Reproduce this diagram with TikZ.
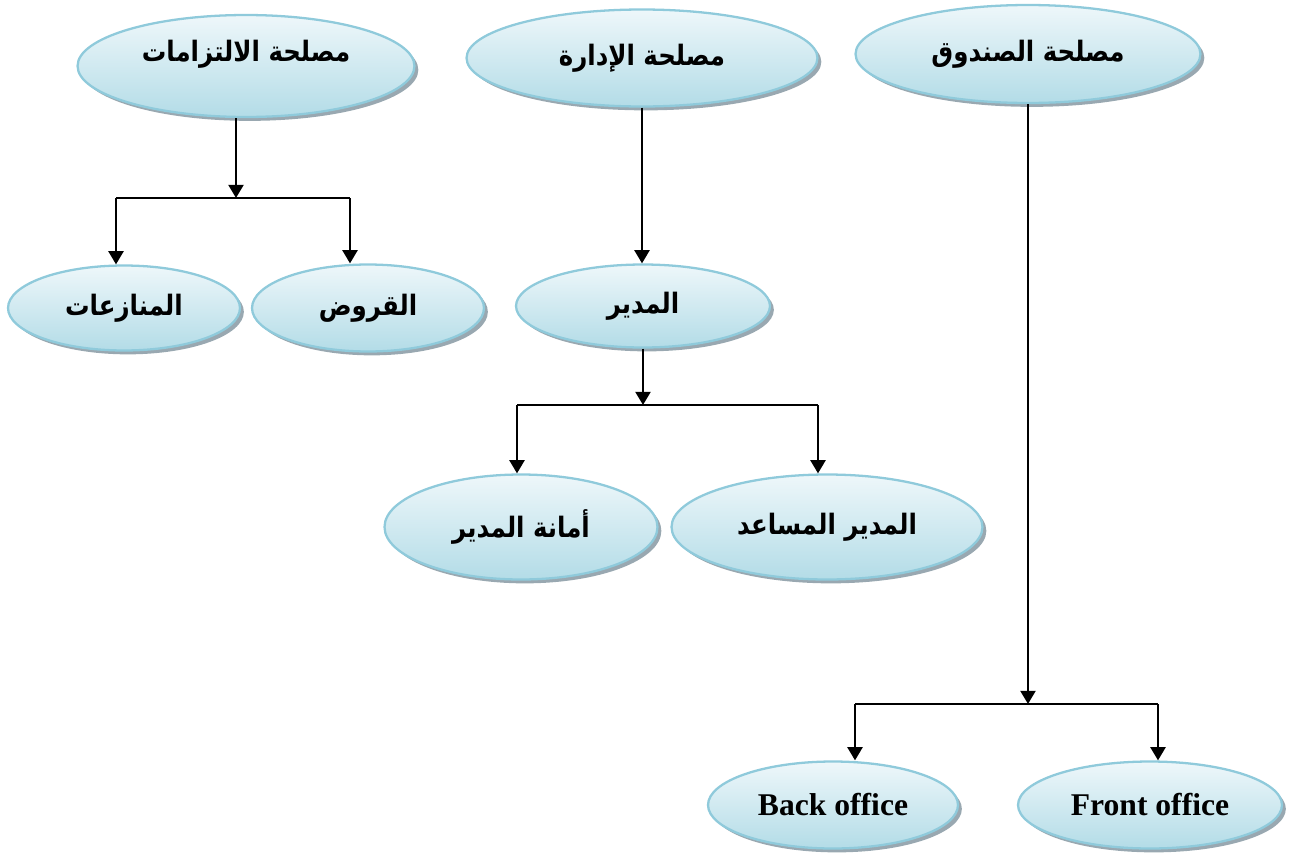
\documentclass[tikz,border=0pt]{standalone}
\usepackage{fontspec}
\setmainfont{Liberation Serif}
\newfontfamily\arabicfont[Script=Arabic]{DejaVu Sans}
\TeXXeTstate=1
\usetikzlibrary{shapes.geometric,shadows,arrows.meta}
\definecolor{unitline}{HTML}{8FCADB}
\definecolor{unittop}{HTML}{EEF7FA}
\definecolor{unitbot}{HTML}{B3DCE7}
\definecolor{unitshade}{HTML}{8E9FA8}
\newcommand{\ar}[1]{\scalebox{0.87}[1]{\fontsize{16}{18}\arabicfont\bfseries\beginR #1\endR}}

\begin{document}
\begin{tikzpicture}[x=0.02cm,y=-0.02cm,
  unit/.style={ellipse,draw=unitline,line width=1.3pt,top color=unittop,bottom color=unitbot,
    inner sep=0pt,font=\fontsize{18}{20}\selectfont\bfseries,
    drop shadow={shadow xshift=2.2pt,shadow yshift=-2.2pt,fill=unitshade,opacity=0.9}},
  link/.style={line width=1.4pt,-{Triangle[length=7.5pt,width=8.5pt]}},
  branch/.style={line width=1.2pt}]
\useasboundingbox (0,0) rectangle (1295,859);

% top row
\node[unit,minimum width=6.74cm,minimum height=2.04cm,text depth=0.6cm] (ilt) at (246,66) {\ar{مصلحة الالتزامات}};
\node[unit,minimum width=7.02cm,minimum height=1.94cm] (idr) at (642,58) {\ar{مصلحة الإدارة}};
\node[unit,minimum width=6.9cm,minimum height=1.96cm] (snd) at (1028,54) {\ar{مصلحة الصندوق}};

\node[unit,minimum width=4.64cm,minimum height=1.7cm] (mun) at (124,308) {\ar{المنازعات}};
\node[unit,minimum width=4.64cm,minimum height=1.74cm] (qur) at (368,308) {\ar{القروض}};
\node[unit,minimum width=5.08cm,minimum height=1.66cm] (mdr) at (643,306) {\ar{المدير}};

\node[unit,minimum width=5.46cm,minimum height=2.1cm] (amn) at (521,527) {\ar{أمانة المدير}};
\node[unit,minimum width=6.22cm,minimum height=2.1cm] (msd) at (827,527) {\ar{المدير المساعد}};

\node[unit,minimum width=5.0cm,minimum height=1.74cm] (bck) at (833,805) {Back office};
\node[unit,minimum width=5.28cm,minimum height=1.74cm] (frn) at (1150,805) {Front office};

% junctions
\coordinate (j1) at (236,198);
\coordinate (b1) at (116,198);
\coordinate (b2) at (350,198);
\coordinate (j2) at (643,405);
\coordinate (b3) at (517,405);
\coordinate (b4) at (818,405);
\coordinate (j3) at (1028,704);
\coordinate (b5) at (855,704);
\coordinate (b6) at (1158,704);

\draw[link] (ilt.south -| j1) -- (j1);
\draw[branch] (b1) -- (b2);
\draw[link] (b1) -- (b1 |- mun.north);
\draw[link] (b2) -- (b2 |- qur.north);

\draw[link] (idr.south) -- (idr.south |- mdr.north);
\draw[link] (mdr.south) -- (j2);
\draw[branch] (b3) -- (b4);
\draw[link] (b3) -- (b3 |- amn.north);
\draw[link] (b4) -- (b4 |- msd.north);

\draw[link] (snd.south) -- (j3);
\draw[branch] (b5) -- (b6);
\draw[link] (b5) -- (b5 |- bck.north);
\draw[link] (b6) -- (b6 |- frn.north);
\end{tikzpicture}
\end{document}
